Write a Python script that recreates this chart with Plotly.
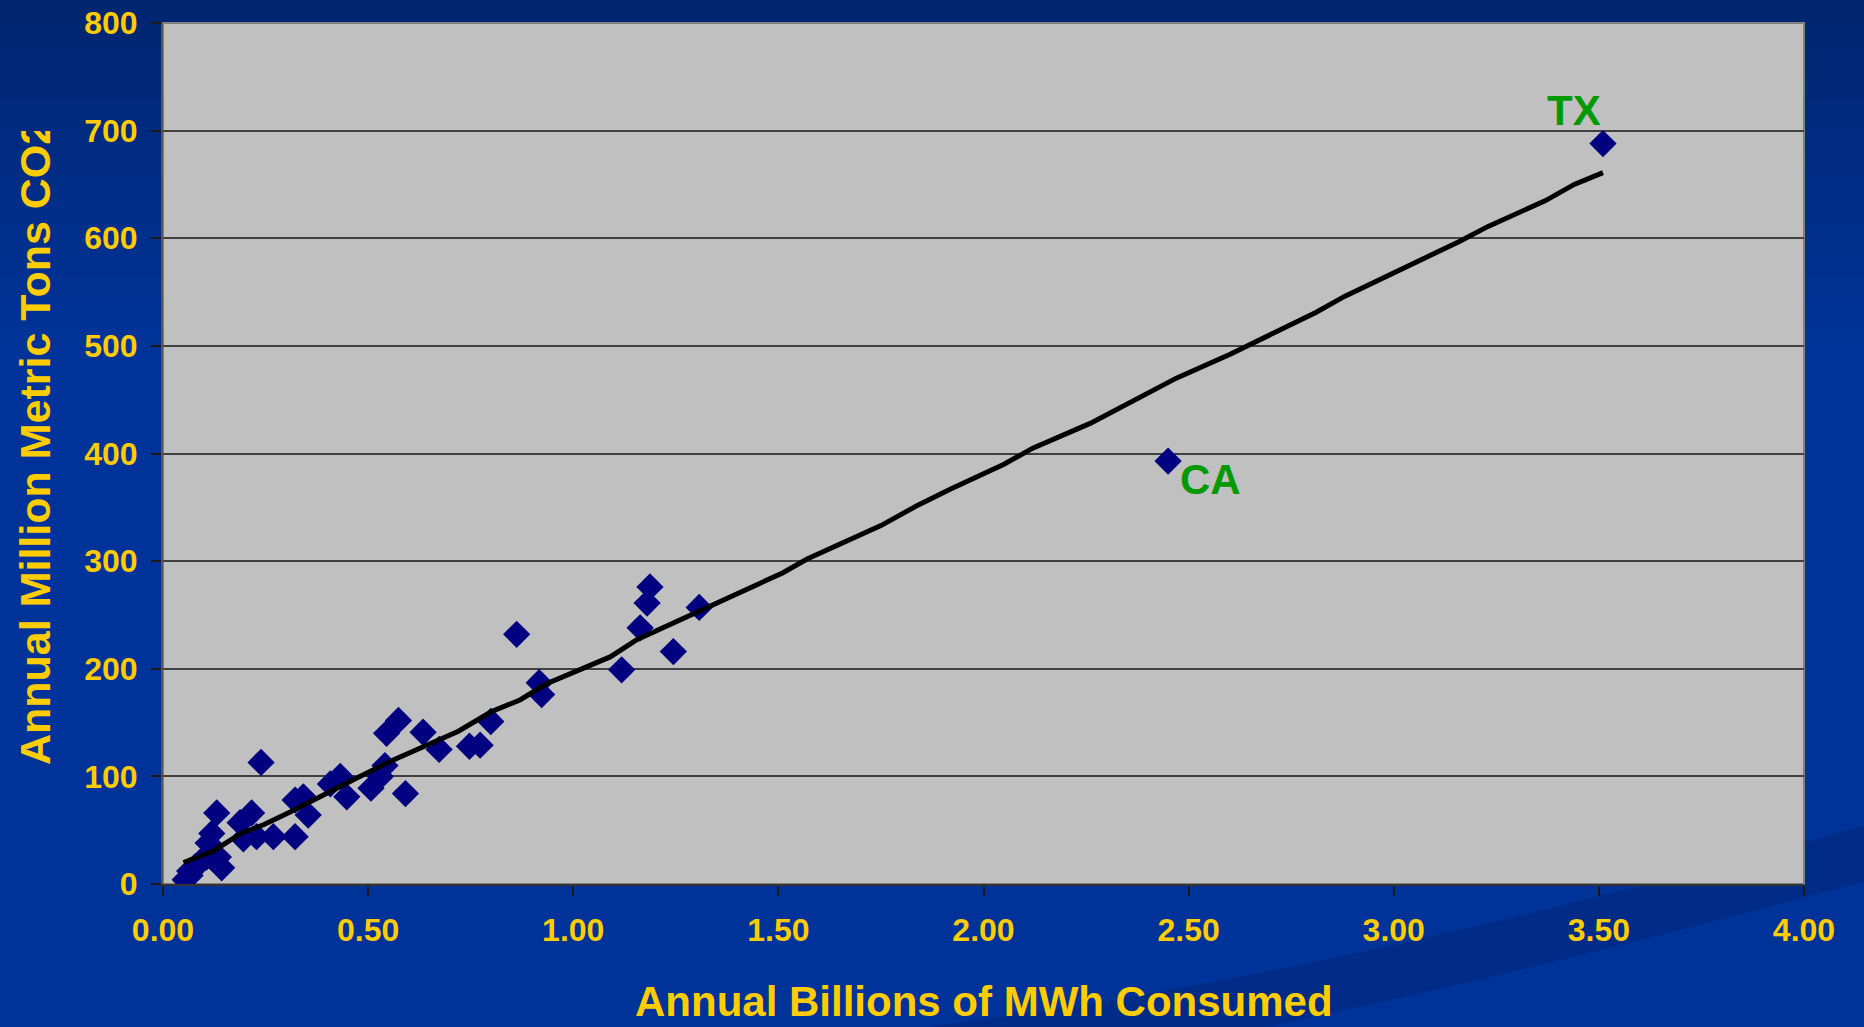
import plotly.graph_objects as go

# ---------------- data ----------------
mwh_billions = [3.51, 2.45, 1.307, 1.244, 1.187, 1.180, 1.163, 1.118, 0.862, 0.917,
                0.923, 0.799, 0.773, 0.747, 0.673, 0.634, 0.591, 0.574, 0.545, 0.541,
                0.530, 0.507, 0.448, 0.432, 0.408, 0.354, 0.342, 0.322, 0.322, 0.269,
                0.239, 0.228, 0.216, 0.196, 0.188, 0.131, 0.119, 0.110, 0.143, 0.135,
                0.106, 0.090, 0.078, 0.054, 0.066, 0.065]
co2_million_tons = [688, 393, 257, 216, 276, 261, 238, 199, 232, 187,
                    176, 151, 129, 128, 125, 141, 84, 152, 140, 110,
                    100, 89, 81, 100, 93, 64, 81, 78, 44, 44,
                    113, 44, 66, 42, 57, 66, 47, 38, 15, 25,
                    25, 20, 16, 4, 8, 12]

trend_x = [0.05, 0.12, 0.19, 0.245, 0.31, 0.39, 0.47, 0.56, 0.64, 0.72, 0.80, 0.87,
           0.935, 1.09, 1.155, 1.34, 1.51, 1.57, 1.675, 1.75, 1.84, 1.92, 2.05, 2.12,
           2.26, 2.33, 2.40, 2.47, 2.60, 2.68, 2.81, 2.88, 3.02, 3.16, 3.23, 3.37, 3.44, 3.51]
trend_y = [20, 30, 47, 55, 67, 83, 98, 115, 129, 142, 160, 171,
           186, 211, 227, 259, 289, 302, 320, 333, 352, 367, 390, 405,
           428, 442, 455, 470, 492, 507, 531, 546, 571, 597, 611, 635, 650, 661]

label_states = ["TX", "CA"]
label_index = [0, 1]          # positions of the labelled states in the arrays above

x_ticks = [0.0, 0.5, 1.0, 1.5, 2.0, 2.5, 3.0, 3.5, 4.0]
y_ticks = [0, 100, 200, 300, 400, 500, 600, 700, 800]

x_title = "Annual Billions of MWh Consumed"
y_title = "Annual Million Metric Tons CO2"

# ---------------- layout helpers ----------------
W, H = 1864, 1027
L, R, T, B = 163, 60, 23, 143
PW, PH = W - L - R, H - T - B

def px(x):
    return (x - L) / PW

def py(y):
    return (H - B - y) / PH

FONT = "Liberation Sans, Arial, Helvetica, sans-serif"
YELLOW = "#FFCC00"
BG = "#003399"

fig = go.Figure()

fig.add_trace(go.Scatter(
    x=mwh_billions, y=co2_million_tons, mode="markers",
    marker=dict(symbol="diamond", size=21, color="#000080", line=dict(width=0)),
    hoverinfo="x+y", showlegend=False))

fig.add_trace(go.Scatter(
    x=trend_x, y=trend_y, mode="lines",
    line=dict(color="#000000", width=5),
    hoverinfo="skip", showlegend=False))

shapes = []
# vertical gradient at the top of the slide background
top = (0, 38, 112)
bot = (0, 51, 153)
n = 14
BAND = 25
band_colors = []
for i in range(n):
    f = (i + 0.5) / n
    c = tuple(round(top[k] + (bot[k] - top[k]) * f) for k in range(3))
    col = "rgb(%d,%d,%d)" % c
    band_colors.append(col)
    y0 = i * BAND
    y1 = (i + 1) * BAND + 1
    shapes.append(dict(type="rect", xref="paper", yref="paper", layer="below",
                       x0=px(-5), x1=px(W + 5), y0=py(y1), y1=py(y0 - (5 if i == 0 else 0)),
                       fillcolor=col, line=dict(width=0)))

# diagonal darker swoosh at bottom right
def P(x, y):
    return "%.5f,%.5f" % (px(x), py(y))

swoosh = ("M " + P(900, 1030) + " Q " + P(1300, 985) + " " + P(1870, 824) +
          " L " + P(1870, 880) + " Q " + P(1500, 980) + " " + P(1250, 1030) + " Z")
shapes.append(dict(type="path", xref="paper", yref="paper", layer="below",
                   path=swoosh, fillcolor="#002C88", line=dict(width=0)))

# plot area (grey) with border
shapes.append(dict(type="rect", xref="paper", yref="paper", layer="below",
                   x0=0, x1=1, y0=0, y1=1, fillcolor="#C0C0C0",
                   line=dict(color="#808080", width=2)))

annotations = []
annotations.append(dict(text=x_title, xref="paper", yref="paper",
                        x=0.5, y=py(1027), xanchor="center", yanchor="bottom",
                        showarrow=False,
                        font=dict(family=FONT, size=42, color=YELLOW, weight="bold")))
annotations.append(dict(text=y_title, xref="paper", yref="paper", textangle=-90,
                        x=px(35), y=py(767), xanchor="center", yanchor="bottom",
                        showarrow=False,
                        font=dict(family=FONT, size=43, color=YELLOW, weight="bold")))
# the original title is clipped by the chart object's top edge: cover the tail
CLIP = 131
for i in range(n):
    y0 = i * BAND
    if y0 >= CLIP:
        break
    y1 = min((i + 1) * BAND, CLIP)
    annotations.append(dict(text=" ", xref="paper", yref="paper",
                            x=px(35), y=py(y0 - (3 if i == 0 else 0)),
                            xanchor="center", yanchor="top",
                            width=80, height=(y1 - y0) + (3 if i == 0 else 0) + (1 if y1 < CLIP else 0),
                            bgcolor=band_colors[i], borderpad=0, borderwidth=0,
                            showarrow=False, font=dict(size=6)))

label_shift = {"TX": (-29, 33), "CA": (42, -18)}
for s, idx in zip(label_states, label_index):
    dx, dy = label_shift[s]
    annotations.append(dict(text=s, x=mwh_billions[idx], y=co2_million_tons[idx],
                            xref="x", yref="y", showarrow=False,
                            xanchor="center", yanchor="middle", xshift=dx, yshift=dy,
                            font=dict(family=FONT, size=42, color="#009A00", weight="bold")))

fig.update_layout(
    width=W, height=H,
    margin=dict(l=L, r=R, t=T, b=B, pad=0),
    paper_bgcolor=BG, plot_bgcolor="#C0C0C0",
    shapes=shapes, annotations=annotations,
    showlegend=False,
    font=dict(family=FONT, color=YELLOW),
    xaxis=dict(range=[0, 4], tickvals=x_ticks,
               ticktext=["%.2f" % v for v in x_ticks],
               showgrid=False, zeroline=False, automargin=False,
               ticklabeloverflow="allow",
               showline=True, linecolor="#333333", linewidth=2,
               ticks="outside", ticklen=10, tickwidth=1.5, tickcolor="#1a1a1a",
               ticklabelstandoff=7,
               tickfont=dict(family=FONT, size=32, color=YELLOW, weight="bold")),
    yaxis=dict(range=[0, 800], tickvals=y_ticks,
               ticktext=[str(v) for v in y_ticks],
               showgrid=True, gridcolor="#404040", gridwidth=1.5, zeroline=False,
               automargin=False, ticklabeloverflow="allow",
               showline=True, linecolor="#555555", linewidth=2,
               ticks="outside", ticklen=10, tickwidth=1.5, tickcolor="#1a1a1a",
               ticklabelstandoff=7,
               tickfont=dict(family=FONT, size=32, color=YELLOW, weight="bold")),
)

fig.write_html("out.html", config={"displayModeBar": False},
               post_script="document.body.style.margin='0';")
